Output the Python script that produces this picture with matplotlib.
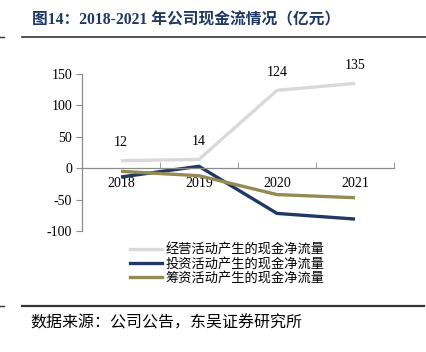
import matplotlib
matplotlib.use("Agg")
import matplotlib.pyplot as plt
from matplotlib.lines import Line2D

years = ["2018", "2019", "2020", "2021"]
operating = [12, 14, 124, 135]
investing = [-14, 3, -72, -81]
financing = [-5, -12, -42, -47]
series_names = ["经营活动产生的现金净流量", "投资活动产生的现金净流量", "筹资活动产生的现金净流量"]
yticks = [-100, -50, 0, 50, 100, 150]

W, H = 427, 352
fig = plt.figure(figsize=(W / 100, H / 100), dpi=100)
serif = ["Liberation Serif", "Noto Sans CJK SC"]
cjk = ["Noto Sans CJK SC", "Liberation Serif"]

ax = fig.add_axes([82 / W, 1 - 231 / H, (394 - 82) / W, (231 - 74) / H])
x = list(range(len(years)))
c_gray, c_navy, c_gold = "#d9d9d9", "#1f3864", "#948a54"
ax.plot(x, operating, color=c_gray, lw=2.4, solid_capstyle="butt")
ax.plot(x, investing, color=c_navy, lw=2.4, solid_capstyle="butt")
ax.plot(x, financing, color=c_gold, lw=2.4, solid_capstyle="butt")

for xi, v in zip(x, operating):
    ax.annotate(str(v), (xi, v), xytext=(0, 13), textcoords="offset points",
                ha="center", va="center", fontsize=10, family=serif)

ax.set_xlim(-0.5, 3.5)
ax.set_ylim(-100, 150)
ax.set_yticks(yticks)
ax.set_yticklabels([str(t) for t in yticks], family=serif, fontsize=10)
for s in ["top", "right"]:
    ax.spines[s].set_visible(False)
ax.spines["bottom"].set_position(("data", 0))
for s in ["left", "bottom"]:
    ax.spines[s].set_color("#8c8c8c")
    ax.spines[s].set_linewidth(0.9)
ax.set_xticks(x)
ax.set_xticklabels(years, family=serif, fontsize=10)
ax.set_xticks([-0.5, 0.5, 1.5, 2.5, 3.5], minor=True)
ax.tick_params(axis="x", which="major", length=0, pad=6.5)
ax.tick_params(axis="x", which="minor", length=4, direction="in", color="#8c8c8c")
ax.tick_params(axis="y", length=4, direction="out", color="#8c8c8c", pad=3)

handles = [Line2D([], [], color=c, lw=2.4) for c in (c_gray, c_navy, c_gold)]
leg = fig.legend(handles, series_names, loc="center left", bbox_to_anchor=(130 / W, 1 - 264 / H),
                 frameon=False, prop={"family": cjk, "size": 9.5}, handlelength=2.4,
                 handletextpad=0.3, labelspacing=0.05, borderpad=0, borderaxespad=0)

fig.text(32 / W, 1 - 20 / H, "图14：2018-2021 年公司现金流情况（亿元）", family=serif,
         fontsize=11.3, fontweight="bold", color="#1f3864", va="center", ha="left")
fig.add_artist(Line2D([22 / W, 1], [1 - 36.7 / H] * 2, color="#333333", lw=1.2))
fig.add_artist(Line2D([0, 4 / W], [1 - 36.7 / H] * 2, color="#333333", lw=1.0))
fig.add_artist(Line2D([22 / W, 424 / W], [1 - 305.7 / H] * 2, color="#333333", lw=1.6))
fig.add_artist(Line2D([0, 4 / W], [1 - 305.7 / H] * 2, color="#333333", lw=1.0))
fig.text(30 / W, 1 - 323 / H, "数据来源：公司公告，东吴证券研究所", family=cjk,
         fontsize=11.5, color="#000000", va="center", ha="left")

fig.savefig("out.png", dpi=100)
